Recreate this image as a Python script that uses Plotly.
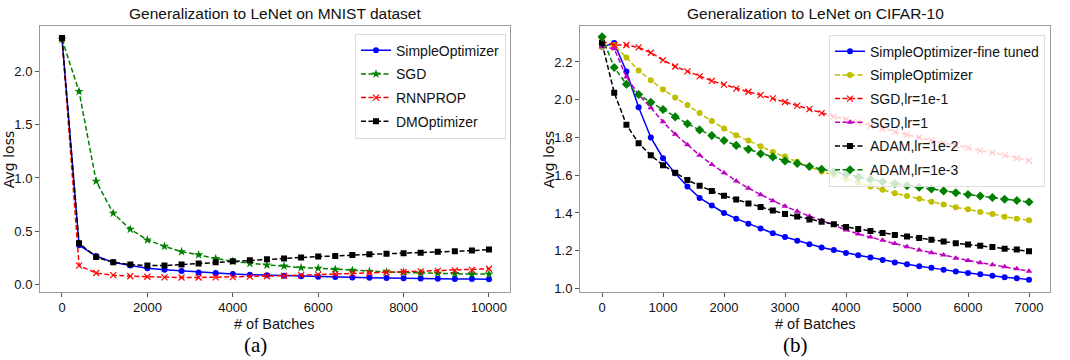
import plotly.graph_objects as go

# ---------------- Data: MNIST (left) ----------------
mnist_x = list(range(0, 10001, 400))
mnist_simple = [2.31, 0.37, 0.27, 0.21, 0.18, 0.155, 0.14, 0.13, 0.115, 0.11, 0.10, 0.095, 0.09,
                0.085, 0.08, 0.075, 0.072, 0.068, 0.066, 0.064, 0.06, 0.058, 0.057, 0.055, 0.053, 0.052]
mnist_sgd = [2.30, 1.81, 0.97, 0.67, 0.52, 0.42, 0.36, 0.31, 0.28, 0.245, 0.22, 0.20, 0.185,
             0.175, 0.16, 0.155, 0.145, 0.135, 0.125, 0.12, 0.115, 0.11, 0.108, 0.105, 0.10, 0.10]
mnist_rnnprop = [2.31, 0.18, 0.11, 0.09, 0.08, 0.075, 0.07, 0.068, 0.068, 0.07, 0.072, 0.076, 0.08,
                 0.085, 0.09, 0.095, 0.10, 0.105, 0.11, 0.115, 0.12, 0.125, 0.13, 0.135, 0.14, 0.15]
mnist_dm = [2.31, 0.39, 0.26, 0.21, 0.19, 0.18, 0.18, 0.19, 0.20, 0.21, 0.22, 0.23, 0.24,
            0.245, 0.255, 0.265, 0.27, 0.28, 0.285, 0.29, 0.295, 0.30, 0.31, 0.315, 0.32, 0.33]

# ---------------- Data: CIFAR-10 (right) ----------------
cifar_x = list(range(0, 7001, 200))
cifar_fine = [2.28, 2.30, 2.15, 1.96, 1.80, 1.69, 1.61, 1.54, 1.48, 1.44, 1.40, 1.37, 1.343, 1.318,
              1.293, 1.273, 1.253, 1.235, 1.217, 1.204, 1.188, 1.176, 1.164, 1.151, 1.138, 1.128,
              1.118, 1.11, 1.10, 1.09, 1.082, 1.075, 1.068, 1.06, 1.055, 1.046]
cifar_simple = [2.28, 2.29, 2.223, 2.155, 2.103, 2.054, 2.012, 1.972, 1.929, 1.887, 1.847, 1.812,
                1.784, 1.754, 1.723, 1.699, 1.671, 1.645, 1.62, 1.60, 1.58, 1.56, 1.54, 1.523,
                1.505, 1.49, 1.475, 1.46, 1.445, 1.43, 1.42, 1.405, 1.395, 1.38, 1.37, 1.362]
cifar_sgd1e1 = [2.31, 2.29, 2.29, 2.277, 2.249, 2.21, 2.176, 2.15, 2.124, 2.10, 2.08, 2.059, 2.042,
                2.024, 2.007, 1.988, 1.969, 1.95, 1.929, 1.911, 1.897, 1.88, 1.862, 1.845, 1.83,
                1.815, 1.80, 1.785, 1.77, 1.76, 1.745, 1.73, 1.72, 1.705, 1.69, 1.677]
cifar_sgd1 = [2.28, 2.27, 2.12, 2.028, 1.958, 1.883, 1.817, 1.761, 1.706, 1.657, 1.613, 1.57, 1.531,
              1.497, 1.465, 1.436, 1.409, 1.383, 1.361, 1.334, 1.31, 1.289, 1.273, 1.256, 1.239,
              1.221, 1.204, 1.19, 1.178, 1.16, 1.148, 1.136, 1.126, 1.115, 1.105, 1.092]
cifar_adam1e2 = [2.30, 2.037, 1.868, 1.77, 1.706, 1.653, 1.613, 1.575, 1.544, 1.517, 1.491, 1.472,
                 1.45, 1.432, 1.413, 1.395, 1.382, 1.366, 1.354, 1.34, 1.326, 1.315, 1.305, 1.294,
                 1.284, 1.275, 1.268, 1.258, 1.249, 1.24, 1.233, 1.226, 1.22, 1.211, 1.206, 1.197]
cifar_adam1e3 = [2.333, 2.171, 2.082, 2.028, 1.986, 1.948, 1.909, 1.873, 1.84, 1.81, 1.784, 1.758,
                 1.737, 1.714, 1.697, 1.676, 1.662, 1.646, 1.632, 1.618, 1.605, 1.59, 1.578, 1.566,
                 1.556, 1.545, 1.537, 1.527, 1.517, 1.507, 1.498, 1.49, 1.482, 1.473, 1.466, 1.458]

mnist_yticks = [0.0, 0.5, 1.0, 1.5, 2.0]
mnist_xticks = [0, 2000, 4000, 6000, 8000, 10000]
mnist_xticklabels = ["0", "2000", "4000", "6000", "8000", "10000"]
cifar_yticks = [1.0, 1.2, 1.4, 1.6, 1.8, 2.0, 2.2]
cifar_xticks = [0, 1000, 2000, 3000, 4000, 5000, 6000, 7000]
cifar_xticklabels = ["0", "1000", "2000", "3000", "4000", "5000", "6000", "7000"]

W, H = 1070, 360
SANS = "Liberation Sans, Arial, sans-serif"

fig = go.Figure()

def add(x, y, name, color, symbol, dash, size, xa, ya, legend, lw=1.5, mline=0):
    fig.add_trace(go.Scatter(
        x=x, y=y, name=name, mode="lines+markers", xaxis=xa, yaxis=ya, legend=legend,
        legendgroup=legend + name,
        line=dict(color=color, width=lw, dash=dash),
        marker=dict(color=color, symbol=symbol, size=size, line=dict(color=color, width=mline)),
    ))

DASH = "5px,2.5px"
# left
add(mnist_x, mnist_simple, "SimpleOptimizer", "#0000ff", "circle", "solid", 6, "x", "y", "legend")
add(mnist_x, mnist_sgd, "SGD", "#008000", "star", DASH, 7, "x", "y", "legend")
add(mnist_x, mnist_rnnprop, "RNNPROP", "#ff0000", "x-thin-open", DASH, 6, "x", "y", "legend", mline=1.2)
add(mnist_x, mnist_dm, "DMOptimizer", "#000000", "square", DASH, 6, "x", "y", "legend")
# right
add(cifar_x, cifar_fine, "SimpleOptimizer-fine tuned", "#0000ff", "circle", "solid", 6, "x2", "y2", "legend2")
add(cifar_x, cifar_simple, "SimpleOptimizer", "#bfbf00", "circle", DASH, 6, "x2", "y2", "legend2")
add(cifar_x, cifar_sgd1e1, "SGD,lr=1e-1", "#ff0000", "x-thin-open", DASH, 6, "x2", "y2", "legend2", mline=1.2)
add(cifar_x, cifar_sgd1, "SGD,lr=1", "#bf00bf", "triangle-up", DASH, 6, "x2", "y2", "legend2")
add(cifar_x, cifar_adam1e2, "ADAM,lr=1e-2", "#000000", "square", DASH, 6, "x2", "y2", "legend2")
add(cifar_x, cifar_adam1e3, "ADAM,lr=1e-3", "#008000", "diamond", DASH, 7, "x2", "y2", "legend2")

ydom = [1 - 295 / H, 1 - 26 / H]
axis_common = dict(showline=True, mirror=True, linecolor="#9a9a9a", linewidth=1,
                   ticks="outside", ticklen=4, tickcolor="#555", showgrid=False, zeroline=False,
                   tickfont=dict(family=SANS, size=13, color="#111"))

leg_common = dict(xanchor="right", yanchor="top", bgcolor="rgba(255,255,255,0.8)",
                  bordercolor="#dddddd", borderwidth=1, traceorder="grouped",
                  font=dict(family=SANS, size=14, color="#111"), tracegroupgap=2.5, itemwidth=30)

fig.update_layout(
    width=W, height=H, margin=dict(l=0, r=0, t=0, b=0),
    paper_bgcolor="white", plot_bgcolor="white",
    xaxis=dict(domain=[40 / W, 510 / W], range=[-515, 10492], tickvals=mnist_xticks,
               ticktext=mnist_xticklabels, anchor="y", **axis_common),
    yaxis=dict(domain=ydom, range=[-0.065, 2.426], tickvals=mnist_yticks, tickformat=".1f",
               anchor="x", **axis_common),
    xaxis2=dict(domain=[580 / W, 1050 / W], range=[-361, 7344], tickvals=cifar_xticks,
                ticktext=cifar_xticklabels, anchor="y2", **axis_common),
    yaxis2=dict(domain=ydom, range=[0.983, 2.392], tickvals=cifar_yticks, tickformat=".1f",
                anchor="x2", **axis_common),
    legend=dict(x=506 / W, y=1 - 34 / H, **leg_common),
    legend2=dict(x=1045 / W, y=1 - 35 / H, **leg_common),
    showlegend=True,
)

def ann(text, x, y, size, family, angle=0, color="#111"):
    fig.add_annotation(text=text, x=x / W, y=1 - y / H, xref="paper", yref="paper",
                       showarrow=False, xanchor="center", yanchor="middle",
                       font=dict(family=family, size=size, color=color), textangle=angle)

ann("Generalization to LeNet on MNIST dataset", 275, 14, 15.5, SANS)
ann("Generalization to LeNet on CIFAR-10", 815, 14, 15.5, SANS)
ann("# of Batches", 275, 328, 14.5, SANS)
ann("# of Batches", 815, 328, 14.5, SANS)
ann("Avg loss", 9, 162, 14, "DejaVu Sans", angle=-90)
ann("Avg loss", 549, 162, 14, "DejaVu Sans", angle=-90)
ann("(a)", 255, 349, 21, "Liberation Serif, Times New Roman, serif", color="#000")
ann("(b)", 795, 349, 21, "Liberation Serif, Times New Roman, serif", color="#000")

fig.write_html("out.html", config={"displayModeBar": False},
               post_script="document.body.style.margin='0';")
